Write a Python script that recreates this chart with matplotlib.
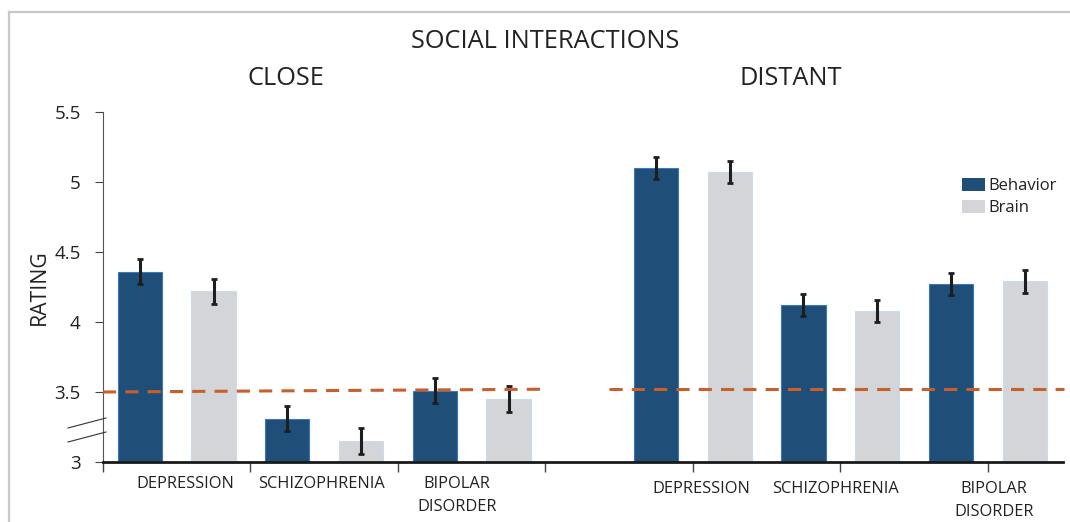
import matplotlib
matplotlib.use("Agg")
import numpy as np
import matplotlib.pyplot as plt
from matplotlib.patches import Patch
from matplotlib.lines import Line2D

# ratings per disorder, close vs distant social interactions
categories = ["DEPRESSION", "SCHIZOPHRENIA", "BIPOLAR\nDISORDER"]
close_behavior = [4.36, 3.31, 3.51]
close_brain = [4.22, 3.15, 3.45]
distant_behavior = [5.10, 4.12, 4.27]
distant_brain = [5.07, 4.08, 4.29]
close_behavior_err = [0.09, 0.09, 0.09]
close_brain_err = [0.09, 0.09, 0.09]
distant_behavior_err = [0.08, 0.08, 0.08]
distant_brain_err = [0.08, 0.08, 0.08]
# dashed reference level (start, end) for each panel
close_ref = [3.50, 3.52]
distant_ref = [3.52, 3.52]

plt.rcParams['font.family'] = ['Open Sans', 'DejaVu Sans']

BLUE = '#1f4e79'
GREY = '#d3d5d8'
ORANGE = '#c95f2b'
TEXT = '#222222'

fig = plt.figure(figsize=(10.7, 5.22), dpi=100)
ax = fig.add_axes([103 / 1070, 1 - 462 / 522, 960 / 1070, 350 / 522])

close_x = np.arange(3)
distant_x = np.arange(3) + 3.5
width = 0.30
off = 0.25
err_kw = dict(ecolor='#1e1e1e', elinewidth=2.2, capsize=2.2, capthick=2)

ax.bar(close_x - off, close_behavior, width, color=BLUE, edgecolor='#3a78b8', linewidth=0.8,
       yerr=close_behavior_err, error_kw=err_kw, zorder=2)
ax.bar(close_x + off, close_brain, width, color=GREY, edgecolor='#c8dcee', linewidth=0.8,
       yerr=close_brain_err, error_kw=err_kw, zorder=2)
ax.bar(distant_x - off, distant_behavior, width, color=BLUE, edgecolor='#3a78b8', linewidth=0.8,
       yerr=distant_behavior_err, error_kw=err_kw, zorder=2)
ax.bar(distant_x + off, distant_brain, width, color=GREY, edgecolor='#c8dcee', linewidth=0.8,
       yerr=distant_brain_err, error_kw=err_kw, zorder=2)

# reference level lines
dash = (0, (4.3, 3.0))
ax.plot([-0.5, 2.5], close_ref, color=ORANGE, lw=2.2, ls=dash, zorder=3, clip_on=False)
ax.plot([2.93, 6.02], distant_ref, color=ORANGE, lw=2.2, ls=dash, zorder=3, clip_on=False)

ax.set_ylim(3, 5.5)
ax.set_xlim(-0.5, 6.01)
ax.set_yticks([3, 3.5, 4, 4.5, 5, 5.5])
ax.set_yticklabels(['3', '3.5', '4', '4.5', '5', '5.5'])
ax.set_xticks([-0.5, 0.5, 1.5, 2.5, 3.5, 4.5, 5.5])
ax.set_xticklabels([])
ax.tick_params(axis='y', length=6, width=0.8, color='#444444', labelsize=13.5, labelcolor=TEXT, pad=10)
ax.tick_params(axis='x', length=7, width=1.0, color='#444444')

for s in ['top', 'right']:
    ax.spines[s].set_visible(False)
ax.spines['left'].set_color('#555555')
ax.spines['left'].set_linewidth(0.8)
ax.spines['bottom'].set_color('#1a1a1a')
ax.spines['bottom'].set_linewidth(2.0)

# category labels under each group
label_x = [0.06, 0.98, 1.90, 3.56, 4.47, 5.54]
label_y = [-0.040, -0.040, -0.040, -0.054, -0.054, -0.054]
for i, lx in enumerate(label_x):
    ax.text(lx, label_y[i], categories[i % 3], transform=ax.get_xaxis_transform(), ha='center', va='top',
            fontsize=11.8, color=TEXT, linespacing=1.6)

# axis break marks
for y0 in [428, 442]:
    fig.add_artist(Line2D([68 / 1070, 106 / 1070], [1 - y0 / 522, 1 - (y0 - 10) / 522],
                          color='#333333', lw=0.8))

ax.set_ylabel('RATING', fontsize=15.3, color=TEXT, labelpad=3)

fig.text(545 / 1070, 1 - 42 / 522, 'SOCIAL INTERACTIONS', ha='center', va='center', fontsize=18.3, color=TEXT)
fig.text(286 / 1070, 1 - 79 / 522, 'CLOSE', ha='center', va='center', fontsize=18.3, color=TEXT)
fig.text(791 / 1070, 1 - 79 / 522, 'DISTANT', ha='center', va='center', fontsize=18.3, color=TEXT)

handles = [Patch(facecolor=BLUE, edgecolor='none', label='Behavior'),
           Patch(facecolor=GREY, edgecolor='none', label='Brain')]
fig.legend(handles=handles, loc='upper left', bbox_to_anchor=(947 / 1070, 1 - 163 / 522), frameon=False,
           fontsize=12, handlelength=1.4, handleheight=0.8, handletextpad=0.2, labelspacing=0.35,
           labelcolor=TEXT)

# light border around the chart area
fig.add_artist(Line2D([9 / 1070, 1.0], [1 - 12 / 522, 1 - 12 / 522], color='#c8c8c8', lw=1.6))
fig.add_artist(Line2D([9 / 1070, 9 / 1070], [0, 1 - 12 / 522], color='#c8c8c8', lw=1.6))

fig.savefig('out.png', dpi=100)
